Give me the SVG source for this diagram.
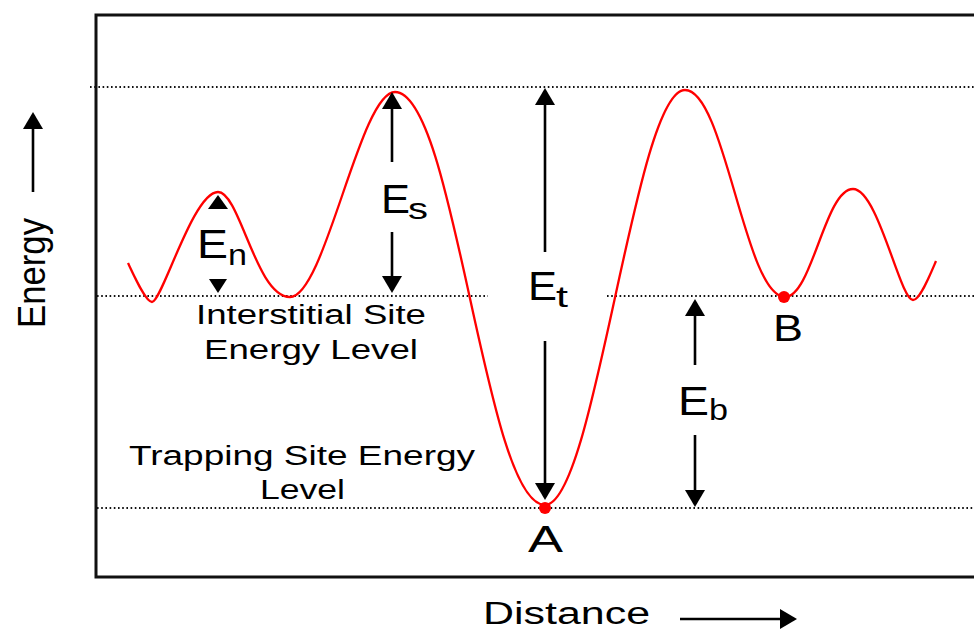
<svg xmlns="http://www.w3.org/2000/svg" width="974" height="631" viewBox="0 0 974 631">
<style>
text{font-family:"Liberation Sans",Arial,sans-serif;fill:#000}
.lbl{font-size:27px}
.big{font-size:40px}
.sub{font-size:30px}
.pt{font-size:37px}
.dot{stroke:#111;stroke-width:1.8;stroke-dasharray:1.6 2.6;fill:none}
.arr{stroke:#000;stroke-width:2.6;fill:none;marker-end:url(#ah)}
.curve{stroke:#f00;stroke-width:2.3;fill:none}
</style>
<defs>
<marker id="ah" markerUnits="userSpaceOnUse" markerWidth="17" markerHeight="20" refX="14" refY="10" orient="auto" viewBox="0 0 17 20">
<path d="M0,0 L17,10 L0,20 z" fill="#000"/>
</marker>
</defs>
<rect id="frame" x="96" y="15" width="900" height="562" fill="none" stroke="#111" stroke-width="3"/>
<g id="levels">
<line class="dot" x1="90" y1="87" x2="974" y2="87"/>
<line class="dot" x1="97" y1="296" x2="488" y2="296"/>
<line class="dot" x1="607" y1="296" x2="974" y2="296"/>
<line class="dot" x1="97" y1="508" x2="974" y2="508"/>
</g>
<g id="curve">
<path class="curve" d="M128,263 C136,280 146,302 152,302 C162,302 193,192 218,192 C240,192 256,297 290,297 C325,297 360,92 395,92 C455,92 485,505 545,505 C595,505 635,90 685,90 C725,90 745,297 785,297 C812,297 825,189 853,189 C878,189 900,300 913,300 C920,300 930,275 936,261"/>
</g>
<g id="pointA">
<circle cx="545" cy="508" r="6" fill="#f00"/>
<text class="pt" x="528" y="552" textLength="35" lengthAdjust="spacingAndGlyphs">A</text>
</g>
<g id="pointB">
<circle cx="784" cy="297" r="6" fill="#f00"/>
<text class="pt" x="773" y="341" textLength="30" lengthAdjust="spacingAndGlyphs">B</text>
</g>
<g id="interstitial-label">
<text class="lbl" x="196" y="324" textLength="230" lengthAdjust="spacingAndGlyphs">Interstitial Site</text>
<text class="lbl" x="204" y="359" textLength="214" lengthAdjust="spacingAndGlyphs">Energy Level</text>
</g>
<g id="trapping-label">
<text class="lbl" x="129" y="465" textLength="346" lengthAdjust="spacingAndGlyphs">Trapping Site Energy</text>
<text class="lbl" x="260" y="499" textLength="85" lengthAdjust="spacingAndGlyphs">Level</text>
</g>
<g id="En">
<polygon points="218,195 208,209 228,209" fill="#000"/>
<polygon points="218,293 209,279 227,279" fill="#000"/>
<text class="big" x="197" y="258" textLength="31" lengthAdjust="spacingAndGlyphs">E</text>
<text class="sub" x="228" y="265" textLength="19" lengthAdjust="spacingAndGlyphs">n</text>
</g>
<g id="Es">
<text class="big" x="381" y="213" textLength="29" lengthAdjust="spacingAndGlyphs">E</text>
<text class="sub" x="408" y="219" textLength="20" lengthAdjust="spacingAndGlyphs">s</text>
</g>
<g id="Et">
<text class="big" x="528" y="300" textLength="29" lengthAdjust="spacingAndGlyphs">E</text>
<text class="sub" x="556" y="307" textLength="12" lengthAdjust="spacingAndGlyphs">t</text>
</g>
<g id="Eb">
<text class="big" x="678" y="415" textLength="31" lengthAdjust="spacingAndGlyphs">E</text>
<text class="sub" x="709" y="420" textLength="19" lengthAdjust="spacingAndGlyphs">b</text>
</g>
<g id="axis-energy">
<text transform="translate(45,328) rotate(-90)" x="0" y="0" font-size="38" textLength="110" lengthAdjust="spacingAndGlyphs">Energy</text>
</g>
<g id="axis-distance">
<text x="483" y="624" font-size="31" textLength="167" lengthAdjust="spacingAndGlyphs">Distance</text>
</g>
<g id="connectors">
<line class="arr" x1="392" y1="162" x2="392" y2="95"/>
<line class="arr" x1="392" y1="232" x2="392" y2="290"/>
<line class="arr" x1="545" y1="252" x2="545" y2="91"/>
<line class="arr" x1="545" y1="341" x2="545" y2="497"/>
<line class="arr" x1="695" y1="365" x2="695" y2="302"/>
<line class="arr" x1="695" y1="435" x2="695" y2="504"/>
<line class="arr" x1="33" y1="192" x2="33" y2="115"/>
<line class="arr" x1="680" y1="619" x2="794" y2="619"/>
</g>
</svg>
